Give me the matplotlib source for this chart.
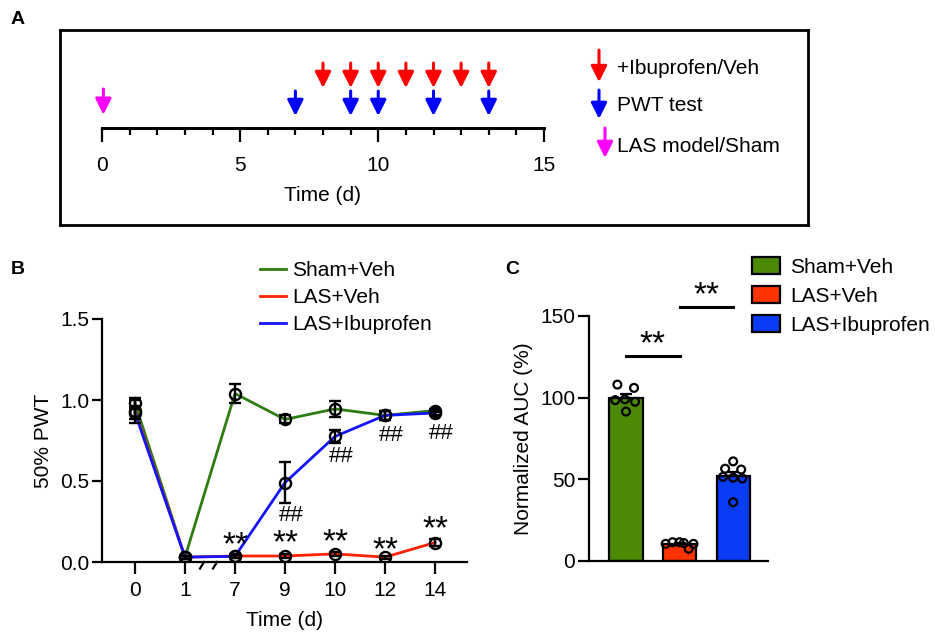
import numpy as np
import matplotlib
matplotlib.use("Agg")
import matplotlib.pyplot as plt

plt.rcParams['font.family'] = ['Liberation Sans', 'DejaVu Sans']
plt.rcParams['font.size'] = 15

# ---------------------------------------------------------------
# Data
# ---------------------------------------------------------------
# Panel A: experimental timeline (days)
model_days = [0]
pwt_days = [7, 9, 10, 12, 14]
drug_days = [8, 9, 10, 11, 12, 13, 14]
timeline_major = [0, 5, 10, 16]
timeline_labels = ['0', '5', '10', '15']
timeline_minor = list(range(0, 17))

# Panel B: 50% PWT time course
day_labels = ['0', '1', '7', '9', '10', '12', '14']
sham_mean = [0.98, 0.03, 1.04, 0.88, 0.945, 0.905, 0.935]
sham_sem = [0.03, 0.01, 0.06, 0.025, 0.05, 0.03, 0.01]
veh_mean = [0.93, 0.03, 0.037, 0.037, 0.05, 0.03, 0.12]
veh_sem = [0.07, 0.01, 0.01, 0.01, 0.01, 0.01, 0.02]
ibu_mean = [0.92, 0.03, 0.035, 0.49, 0.775, 0.905, 0.92]
ibu_sem = [0.04, 0.01, 0.01, 0.125, 0.04, 0.03, 0.01]
star_idx = [2, 3, 4, 5, 6]
star_y = [0.148, 0.16, 0.167, 0.117, 0.247]
hash_idx = [3, 4, 5, 6]
hash_y = [0.29, 0.654, 0.778, 0.796]

# Panel C: normalized AUC, individual animals
groups = ['Sham+Veh', 'LAS+Veh', 'LAS+Ibuprofen']
auc_sham = [108, 106, 98.5, 97.5, 91.5, 99]
auc_veh = [10.5, 11.5, 11.5, 11, 7.5, 10.5]
auc_ibu = [61, 56.5, 56, 51.5, 51, 50.5, 36]
jit_sham = [-0.16, 0.15, -0.2, 0.17, 0.0, -0.02]
jit_veh = [-0.26, -0.13, 0.0, 0.08, 0.17, 0.26]
jit_ibu = [0.0, -0.15, 0.15, -0.19, 0.0, 0.17, 0.0]
sig_pairs = [(0, 1), (1, 2)]
sig_y = [125.5, 155.5]

# ---------------------------------------------------------------
# Style
# ---------------------------------------------------------------
W, H = 935.0, 636.0
RED = "#ff0000"
BLUE = "#0000ff"
MAGENTA = "#ff00ff"
LINE_GREEN = "#2f7d12"
LINE_RED = "#ff2200"
LINE_BLUE = "#1414ff"
BAR_GREEN = "#4c8a06"
BAR_RED = "#ff3300"
BAR_BLUE = "#0a3cf5"


def px_axes(left, top, right, bottom):
    """Axes rectangle given in pixel coordinates of the final image."""
    return fig.add_axes([left / W, 1 - bottom / H, (right - left) / W,
                         (bottom - top) / H])


def down_arrow(ax, x, y0, y1, color, transform=None):
    kw = {}
    if transform is not None:
        kw = dict(xycoords=transform, textcoords=transform)
    ax.annotate('', xy=(x, y1), xytext=(x, y0), annotation_clip=False,
                arrowprops=dict(arrowstyle='-|>,head_length=0.6,head_width=0.3',
                                mutation_scale=16, lw=2.2, color=color,
                                shrinkA=0, shrinkB=0), **kw)


def stars(ax, x, y, **kw):
    # asterisks sit high in the font, nudge the box down so the glyphs land on y
    ax.annotate('**', (x, y), xytext=(0, -8), textcoords='offset pixels',
                fontsize=24, ha='center', va='center',
                annotation_clip=False, **kw)


fig = plt.figure(figsize=(W / 100, H / 100), dpi=100)

# ---------------------------------------------------------------
# Panel A
# ---------------------------------------------------------------
axbox = px_axes(60, 30, 808, 225)
axbox.set_xticks([])
axbox.set_yticks([])
for s in axbox.spines.values():
    s.set_linewidth(2)

axt = px_axes(102, 50, 544, 128)
axt.patch.set_alpha(0)
axt.set_xlim(0, 16)
axt.set_ylim(0, 1)
for s in ['left', 'right', 'top']:
    axt.spines[s].set_visible(False)
axt.spines['bottom'].set_linewidth(2.2)
axt.set_yticks([])
axt.set_xticks(timeline_major)
axt.set_xticklabels(timeline_labels)
axt.set_xticks(timeline_minor, minor=True)
axt.tick_params(axis='x', which='major', length=10, width=1.6, pad=10)
axt.tick_params(axis='x', which='minor', length=5, width=1.6)
axt.set_xlabel('Time (d)', labelpad=8)

for d in drug_days:
    down_arrow(axt, d, 0.833, 0.513, RED)
for d in pwt_days:
    down_arrow(axt, d, 0.474, 0.154, BLUE)
for d in model_days:
    down_arrow(axt, d + 0.05, 0.50, 0.17, MAGENTA)

# arrow legend
tr = axbox.transAxes
down_arrow(axbox, 0.7206, 0.897, 0.733, RED, tr)
down_arrow(axbox, 0.7206, 0.692, 0.544, BLUE, tr)
down_arrow(axbox, 0.7286, 0.497, 0.344, MAGENTA, tr)
axbox.text(0.7447, 0.805, '+Ibuprofen/Veh', transform=tr, va='center')
axbox.text(0.7447, 0.615, 'PWT test', transform=tr, va='center')
axbox.text(0.7447, 0.40, 'LAS model/Sham', transform=tr, va='center')

fig.text(18 / W, 1 - 19 / H, 'A', fontsize=14, fontweight='bold',
         ha='center', va='center')

# ---------------------------------------------------------------
# Panel B
# ---------------------------------------------------------------
axB = px_axes(102, 319, 467, 562)
x = np.arange(len(day_labels))
series = [(sham_mean, sham_sem, LINE_GREEN, 'Sham+Veh'),
          (veh_mean, veh_sem, LINE_RED, 'LAS+Veh'),
          (ibu_mean, ibu_sem, LINE_BLUE, 'LAS+Ibuprofen')]
for mean, sem, color, label in series:
    axB.plot(x, mean, color=color, lw=2, label=label, zorder=2)
for mean, sem, color, label in series:
    axB.errorbar(x, mean, yerr=sem, fmt='o', ms=8, mfc='none', mec='black',
                 mew=1.7, ecolor='black', elinewidth=1.7, capsize=4.4,
                 capthick=1.7, zorder=3)

for i, yy in zip(star_idx, star_y):
    stars(axB, x[i], yy)
for i, yy in zip(hash_idx, hash_y):
    axB.text(x[i] + 0.12, yy, '##', fontsize=16, ha='center', va='center')

# axis break marks between day 1 and day 7
for bx in [1.34, 1.6]:
    axB.plot([bx - 0.04, bx + 0.04], [-0.04, 0.0], color='black', lw=1.6,
             clip_on=False)

axB.set_xlim(-0.66, 6.64)
axB.set_ylim(0, 1.5)
axB.set_xticks(x)
axB.set_xticklabels(day_labels)
axB.set_yticks([0, 0.5, 1.0, 1.5])
axB.set_yticklabels(['0.0', '0.5', '1.0', '1.5'])
axB.spines['right'].set_visible(False)
axB.spines['top'].set_visible(False)
axB.spines['left'].set_linewidth(1.6)
axB.spines['bottom'].set_linewidth(1.6)
axB.tick_params(axis='x', length=8.5, width=1.6, pad=5)
axB.tick_params(axis='y', length=7, width=1.6, pad=2)
axB.set_ylabel('50% PWT', labelpad=5)
axB.set_xlabel('Time (d)', labelpad=8)
axB.legend(loc='upper left', bbox_to_anchor=(260 / W, 1 - 261 / H),
           bbox_transform=fig.transFigure, frameon=False, borderpad=0,
           borderaxespad=0, handlelength=1.25, handletextpad=0.3,
           labelspacing=0.38)

fig.text(18 / W, 1 - 270 / H, 'B', fontsize=14, fontweight='bold',
         ha='center', va='center')

# ---------------------------------------------------------------
# Panel C
# ---------------------------------------------------------------
axC = px_axes(589, 316, 768, 561)
auc_sets = [auc_sham, auc_veh, auc_ibu]
jit_sets = [jit_sham, jit_veh, jit_ibu]
bar_colors = [BAR_GREEN, BAR_RED, BAR_BLUE]
for i, (vals, jit, col, name) in enumerate(zip(auc_sets, jit_sets,
                                                bar_colors, groups)):
    vals = np.array(vals)
    m = vals.mean()
    sem = vals.std(ddof=1) / np.sqrt(len(vals))
    axC.bar(i, m, width=0.62, color=col, edgecolor='black', lw=1.6,
            label=name, zorder=1)
    axC.errorbar(i, m, yerr=[[0], [sem]], fmt='none', ecolor='black',
                 elinewidth=1.6, capsize=4.3, capthick=1.6, zorder=2)
    axC.scatter(i + np.array(jit), vals, s=32, facecolor='none',
                edgecolor='black', lw=1.6, zorder=3)

for (a, b), yy in zip(sig_pairs, sig_y):
    axC.plot([a, b], [yy, yy], color='black', lw=2.2, clip_on=False)
    stars(axC, (a + b) / 2, yy + 12)

axC.set_xlim(-0.69, 2.65)
axC.set_ylim(0, 150)
axC.set_xticks([])
axC.set_yticks([0, 50, 100, 150])
axC.spines['right'].set_visible(False)
axC.spines['top'].set_visible(False)
axC.spines['left'].set_linewidth(1.6)
axC.spines['bottom'].set_linewidth(1.6)
axC.tick_params(axis='y', length=8, width=1.6, pad=2)
axC.set_ylabel('Normalized AUC (%)', labelpad=5)
axC.legend(loc='upper left', bbox_to_anchor=(752 / W, 1 - 257 / H),
           bbox_transform=fig.transFigure, frameon=False, borderpad=0,
           borderaxespad=0, handlelength=1.35, handleheight=0.87,
           handletextpad=0.48, labelspacing=0.45)

fig.text(512 / W, 1 - 270 / H, 'C', fontsize=14, fontweight='bold',
         ha='center', va='center')

fig.savefig('out.png', dpi=100)
